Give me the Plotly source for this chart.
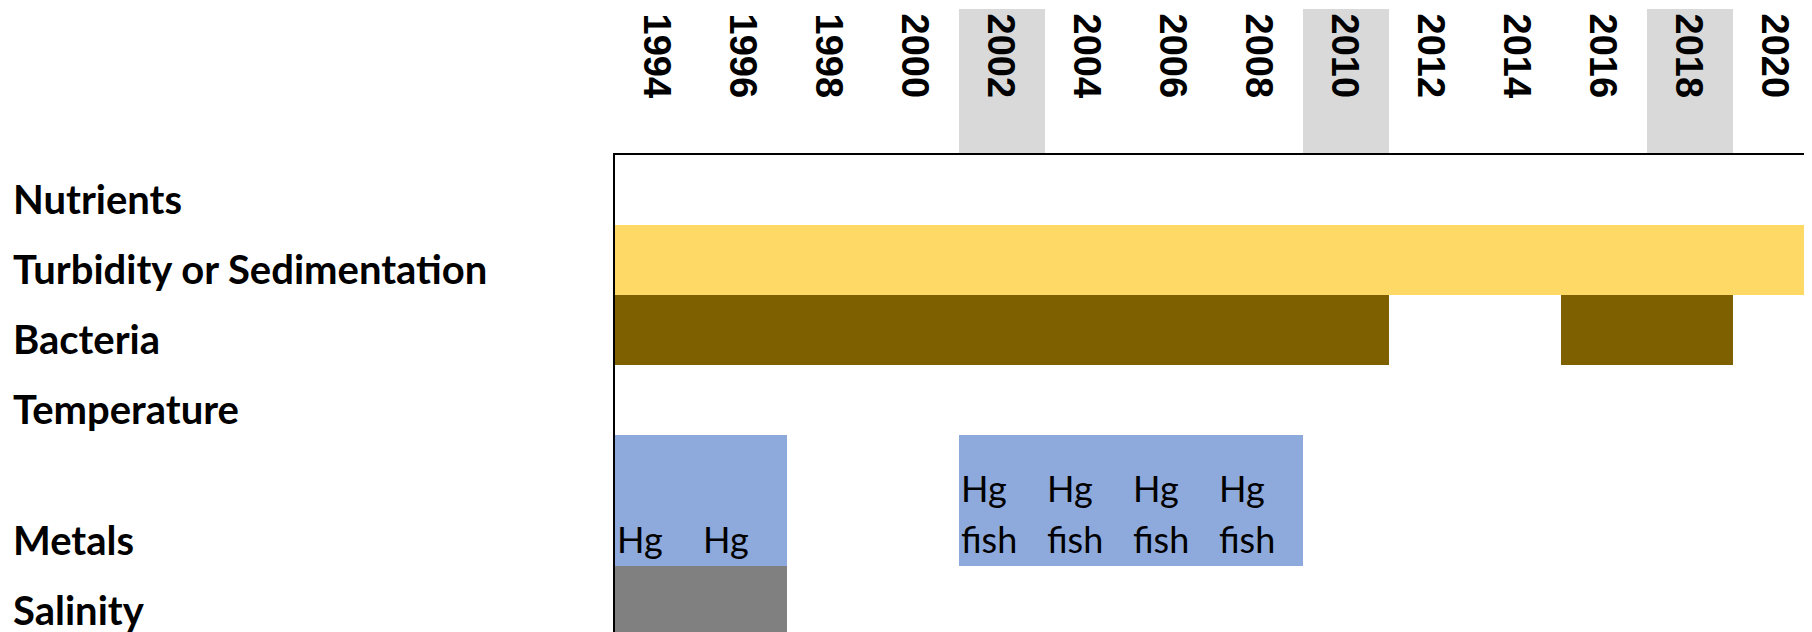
import plotly.graph_objects as go

# ---------------- data ----------------
categories = ["Nutrients", "Turbidity or Sedimentation", "Bacteria",
              "Temperature", "Metals", "Salinity"]
year_labels = [1994, 1996, 1998, 2000, 2002, 2004, 2006, 2008,
               2010, 2012, 2014, 2016, 2018, 2020]
highlight_years = [2002, 2010, 2018]

turbidity_periods = [(1994, 2020)]
bacteria_periods = [(1994, 2010), (2016, 2018)]
metals_periods = [(1994, 1996), (2002, 2008)]
salinity_periods = [(1994, 1996)]

metals_label_years = [1994, 1996, 2002, 2004, 2006, 2008]
metals_label_texts = ["Hg", "Hg", "Hg\nfish", "Hg\nfish", "Hg\nfish", "Hg\nfish"]

# ---------------- layout constants ----------------
PAGE_OFF = 8                      # default body margin of the html page
W, H = 1812 - PAGE_OFF, 632 - PAGE_OFF
L, T = 615 - PAGE_OFF, 155 - PAGE_OFF
ROW_PX = 70
row_heights = [1, 1, 1, 1, 131 / 70, 1]          # in row units
COL_YEARS = 2                                      # each column spans two years
PX_PER_YEAR = 43
CELL_LINE_PX = 51

row_top = []
acc = 0.0
for h in row_heights:
    row_top.append(acc)
    acc += h
row_center = {c: row_top[i] + row_heights[i] / 2 for i, c in enumerate(categories)}
row_width = {c: row_heights[i] for i, c in enumerate(categories)}
row_bottom = {c: row_top[i] + row_heights[i] for i, c in enumerate(categories)}

plot_w = W - L
plot_h = H - T
x0 = year_labels[0] - COL_YEARS / 2
x1 = x0 + plot_w / PX_PER_YEAR
y_max = plot_h / ROW_PX

colors = {
    "Turbidity or Sedimentation": "#FFD966",
    "Bacteria": "#7F6000",
    "Metals": "#8EA9DB",
    "Salinity": "#808080",
}
series = {
    "Turbidity or Sedimentation": turbidity_periods,
    "Bacteria": bacteria_periods,
    "Metals": metals_periods,
    "Salinity": salinity_periods,
}

fig = go.Figure()
for cat, periods in series.items():
    fig.add_trace(go.Bar(
        orientation="h",
        y=[row_center[cat]] * len(periods),
        base=[s - COL_YEARS / 2 for s, e in periods],
        x=[e - s + COL_YEARS for s, e in periods],
        width=[row_width[cat]] * len(periods),
        marker=dict(color=colors[cat], line=dict(width=0)),
        name=cat,
        showlegend=False,
        hoverinfo="skip",
    ))

# shaded header cells
for yr in highlight_years:
    fig.add_shape(type="rect", xref="x", yref="paper",
                  x0=yr - COL_YEARS / 2, x1=yr + COL_YEARS / 2,
                  y0=1 + 1 / plot_h, y1=1 + (T - 1) / plot_h,
                  fillcolor="#D9D9D9", line=dict(width=0), layer="below")

annotations = []
# year header labels
for yr in year_labels:
    annotations.append(dict(
        x=yr, xref="x", y=1 + (T - 3) / plot_h, yref="paper",
        text="<b>%d</b>" % yr, showarrow=False, textangle=90,
        xanchor="center", yanchor="top", xshift=-1,
        font=dict(family="Liberation Sans, Arial", size=38, color="black"),
    ))
# row labels
for cat in categories:
    annotations.append(dict(
        x=-(L - 3) / plot_w, xref="paper",
        y=1 - row_bottom[cat] / y_max, yref="paper",
        text="<b>%s</b>" % cat, showarrow=False,
        xanchor="left", yanchor="bottom",
        font=dict(family="Lato", size=40, color="black"),
    ))
# metals cell texts (one annotation per text line, bottom aligned)
for yr, txt in zip(metals_label_years, metals_label_texts):
    lines = txt.split("\n")
    for k, line in enumerate(reversed(lines)):
        annotations.append(dict(
            x=yr - COL_YEARS / 2, xref="x", y=row_bottom["Metals"], yref="y",
            text=line, showarrow=False, align="left",
            xanchor="left", yanchor="bottom", xshift=0,
            yshift=3 + k * CELL_LINE_PX,
            font=dict(family="Lato", size=36, color="black"),
        ))

fig.update_layout(
    width=W, height=H,
    margin=dict(l=L, r=0, t=T, b=0, pad=0),
    paper_bgcolor="white", plot_bgcolor="white",
    barmode="overlay",
    showlegend=False,
    annotations=annotations,
    xaxis=dict(range=[x0, x1], side="top", showgrid=False, zeroline=False,
               showticklabels=False, ticks="", showline=True,
               linecolor="black", linewidth=2, fixedrange=True),
    yaxis=dict(range=[y_max, 0], showgrid=False, zeroline=False,
               showticklabels=False, ticks="", showline=True,
               linecolor="black", linewidth=2, fixedrange=True),
)

fig.write_html("out.html")
